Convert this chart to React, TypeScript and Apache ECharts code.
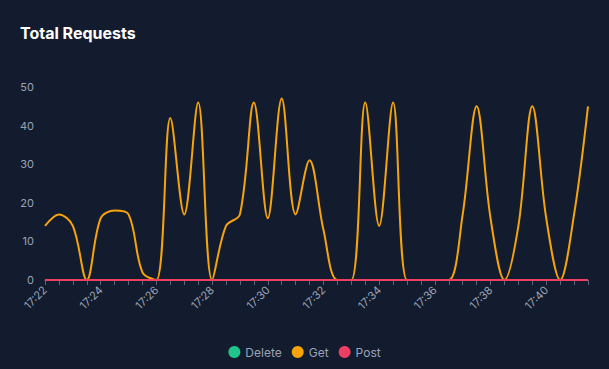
import React, { useEffect, useRef } from "react";
import * as echarts from "echarts";

const times: string[] = [
  "17:22:00","17:22:30","17:23:00","17:23:30","17:24:00","17:24:30","17:25:00","17:25:30",
  "17:26:00","17:26:30","17:27:00","17:27:30","17:28:00","17:28:30","17:29:00","17:29:30",
  "17:30:00","17:30:30","17:31:00","17:31:30","17:32:00","17:32:30","17:33:00","17:33:30",
  "17:34:00","17:34:30","17:35:00","17:35:30","17:36:00","17:36:30","17:37:00","17:37:30",
  "17:38:00","17:38:30","17:39:00","17:39:30","17:40:00","17:40:30","17:41:00","17:41:30",
];

const getValues: number[] = [
  14, 17, 14, 0, 16, 18, 17, 2, 0, 42, 17, 46, 0, 14, 17, 46, 16, 47, 17, 31,
  13, 0, 0, 46, 14, 46, 0, 0, 0, 0, 17, 45, 16, 0, 14, 45, 16, 0, 17, 45,
];
const deleteValues: number[] = times.map(() => 0);
const postValues: number[] = times.map(() => 0);

const seriesNames: string[] = ["Delete", "Get", "Post"];
const seriesColors: string[] = ["#1fc58a", "#f5a40c", "#ee3f62"];

const FONT = "Inter, 'Noto Sans', sans-serif";

export default function App() {
  const ref = useRef<HTMLDivElement>(null);
  useEffect(() => {
    document.body.style.margin = "0";
    const chart = echarts.init(ref.current!, null, { renderer: "svg" });
    const data = [deleteValues, getValues, postValues];
    chart.setOption({
      animation: false,
      backgroundColor: "#131b2e",
      textStyle: { fontFamily: FONT },
      title: {
        text: "Total Requests",
        left: 15,
        top: 20,
        textStyle: { color: "#ffffff", fontSize: 16, fontWeight: "bold", fontFamily: FONT },
      },
      legend: {
        bottom: 6,
        left: "center",
        icon: "circle",
        itemWidth: 12,
        itemHeight: 12,
        itemGap: 10,
        data: seriesNames,
        textStyle: { color: "#9aa3b5", fontSize: 12, fontFamily: FONT },
      },
      grid: { left: 45, right: 21, top: 87, bottom: 89, containLabel: false },
      xAxis: {
        type: "category",
        boundaryGap: false,
        data: times,
        axisLine: { show: true, lineStyle: { color: "#5b6478" } },
        axisTick: { show: true, interval: 0, lineStyle: { color: "#5b6478" } },
        axisLabel: {
          interval: 3,
          rotate: 45,
          color: "#9aa3b5",
          fontSize: 11,
          formatter: (v: string) => v.slice(0, 5),
        },
        splitLine: { show: false },
      },
      yAxis: {
        type: "value",
        min: 0,
        max: 50,
        interval: 10,
        axisLine: { show: false },
        axisTick: { show: false },
        axisLabel: { color: "#9aa3b5", fontSize: 11, margin: 11 },
        splitLine: { show: false },
      },
      series: seriesNames.map((name, i) => ({
        name,
        type: "line",
        smooth: 0.35,
        showSymbol: false,
        symbol: "circle",
        data: data[i],
        itemStyle: { color: seriesColors[i] },
        lineStyle: { color: seriesColors[i], width: 2 },
      })),
    });
    return () => chart.dispose();
  }, []);
  return <div ref={ref} style={{ width: 609, height: 369 }} />;
}
